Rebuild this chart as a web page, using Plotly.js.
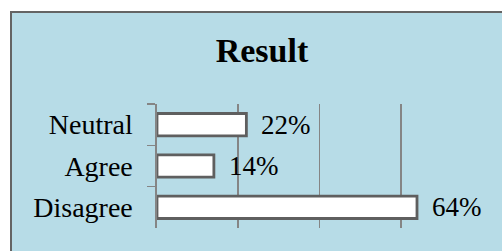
<!DOCTYPE html>
<html>
<head>
<meta charset="utf-8">
<script src="https://cdn.plot.ly/plotly-3.0.1.min.js"></script>
<style>
  html, body { margin: 0; padding: 0; background: #ffffff; overflow: hidden; width: 502px; height: 251px; }
  #frame { position: absolute; left: 10px; top: 11px; border: 2px solid #646464; background: #b7dce7; width: 500px; height: 250px; }
  #chart { width: 500px; height: 250px; }
</style>
</head>
<body>
<div id="frame"><div id="chart"></div></div>
<script>
const categories = ['Neutral', 'Agree', 'Disagree'];
const shares = [0.22, 0.14, 0.64];
const valueLabels = ['22%', '14%', '64%'];
const gridTicks = [0, 0.2, 0.4, 0.6, 0.8];

const font = "'Liberation Serif', 'Times New Roman', serif";

const trace = {
  type: 'bar',
  orientation: 'h',
  y: categories,
  x: shares,
  width: 0.54,
  marker: { color: '#ffffff', line: { color: '#5f5f5f', width: 2.8 } },
  hoverinfo: 'none'
};

const annotations = categories.map((c, i) => ({
  x: shares[i], y: c, xref: 'x', yref: 'y',
  text: valueLabels[i], showarrow: false,
  xanchor: 'left', yanchor: 'middle', xshift: 13,
  font: { family: font, size: 27, color: '#000000' }
}));

const layout = {
  width: 500, height: 250,
  paper_bgcolor: '#b7dce7',
  plot_bgcolor: 'rgba(0,0,0,0)',
  margin: { l: 145, r: 30, t: 91, b: 35 },
  showlegend: false,
  font: { family: font },
  title: {
    text: '<b>Result</b>',
    font: { family: font, size: 34, color: '#000000' },
    x: 0.5, xanchor: 'center', xref: 'container',
    y: 0.85, yanchor: 'middle', yref: 'container'
  },
  xaxis: {
    range: [0, 0.8], tickmode: 'array', tickvals: gridTicks,
    showticklabels: false, ticks: '',
    showgrid: true, gridcolor: '#858585', gridwidth: 1.6,
    zeroline: false, showline: false, fixedrange: true
  },
  yaxis: {
    type: 'category', autorange: 'reversed',
    showline: true, linecolor: '#858585', linewidth: 1.6,
    ticks: 'outside', tickson: 'boundaries', ticklen: 8, tickcolor: '#858585', tickwidth: 1.6,
    ticklabelstandoff: 17,
    tickfont: { family: font, size: 28, color: '#000000' },
    showgrid: false, zeroline: false, fixedrange: true
  },
  annotations: annotations
};

Plotly.newPlot('chart', [trace], layout, { displayModeBar: false, staticPlot: true });
</script>
</body>
</html>
